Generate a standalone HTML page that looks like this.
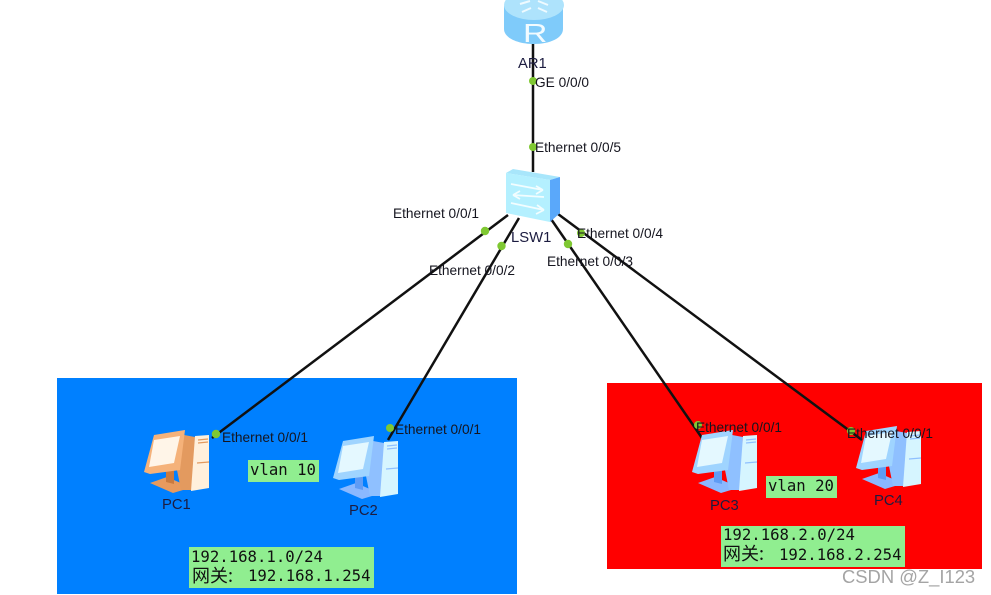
<!DOCTYPE html>
<html>
<head>
<meta charset="utf-8">
<style>
html,body{margin:0;padding:0;background:#fff;width:991px;height:595px;overflow:hidden}
svg{position:absolute;left:0;top:0;display:block;filter:blur(0.35px)}
.l{font-family:"Liberation Sans",sans-serif;font-size:13.7px;fill:#15151f}
.n{font-family:"Liberation Sans",sans-serif;font-size:14.8px;fill:#1c1c40}
.m{font-family:"DejaVu Sans Mono","Liberation Mono",monospace;font-size:15.66px;fill:#111}
.c{font-family:"Noto Sans CJK SC","Liberation Sans",sans-serif;font-size:18px;fill:#111}
</style>
</head>
<body>
<svg width="991" height="595" viewBox="0 0 991 595" xmlns="http://www.w3.org/2000/svg">
<defs>
<g id="pcb">
<path d="M7 53 L24 47 L40 54 L40 60 L30 63 Z" fill="#8ab8ff"/>
<path d="M23 40 L31 39 L31 54 L23 52 Z" fill="#5f9cf5"/>
<path d="M41 5 L52 7 L50 60 L38 60 L34 40 Z" fill="#8fc0ff"/>
<path d="M52 6 L66 5 L66 58 L48 61 Z" fill="#d6f5ff"/>
<path d="M55 10 L65 9 M55 13 L65 12 M54 33 L66 32" stroke="#8fc0ff" stroke-width="1.2"/>
<path d="M11 5 L42 0 L37 40 L7 44 L1 42 Z" fill="#9fd4ff"/>
<path d="M11 10 L37 6 L31 33 L6 37 Z" fill="#e4f8ff"/>
</g>
</defs>

<rect x="57" y="378" width="460" height="216" fill="#0080ff"/>
<rect x="607" y="383" width="375" height="186" fill="#ff0000"/>

<g stroke="#111" stroke-width="2.5" fill="none">
<line x1="533" y1="40" x2="533" y2="172"/>
<line x1="508" y1="215" x2="212" y2="438"/>
<line x1="519" y1="218" x2="388" y2="440"/>
<line x1="551" y1="219" x2="702" y2="438"/>
<line x1="558" y1="214" x2="862" y2="440"/>
</g>

<!-- Router -->
<path d="M504 6 V29 C504 38 518 44 534 44 C550 44 563 38 563 29 V6 Z" fill="#7fcbfa"/>
<ellipse cx="534" cy="5" rx="30" ry="15" fill="#aee3fc"/>
<path d="M520 4 L530 1 M538 1 L548 5 M522 12 L531 8 M538 8 L547 12" stroke="#eefaff" stroke-width="2"/>
<text transform="translate(523,42) scale(1.3,1)" x="0" y="0" font-family="Liberation Sans,sans-serif" font-size="26" fill="#f2fbff">R</text>

<!-- Switch -->
<path d="M506 173 L513 169 L560 177 L550 180 Z" fill="#a8e6fb"/>
<path d="M506 173 L550 180 L550 222 L506 213 Z" fill="#b4f0ff"/>
<path d="M550 180 L560 177 L560 213 L550 222 Z" fill="#5aa8fa"/>
<path d="M511 184 L543 190 M543 190 L536 186 M543 190 L536 194 M513 195 L544 197 M513 195 L520 191 M513 195 L520 199 M511 203 L544 210 M544 210 L537 205 M544 210 L536 214" stroke="#f2fdff" stroke-width="1.7" fill="none"/>

<!-- PC1 orange -->
<g transform="translate(143,430)">
<path d="M7 53 L24 47 L40 54 L40 60 L30 63 Z" fill="#e89a5e"/>
<path d="M23 40 L31 39 L31 54 L23 52 Z" fill="#c97a3f"/>
<path d="M41 5 L52 7 L50 60 L38 60 L34 40 Z" fill="#e39a5f"/>
<path d="M52 6 L66 5 L66 58 L48 61 Z" fill="#fff0dc"/>
<path d="M55 10 L65 9 M55 13 L65 12 M54 33 L66 32" stroke="#e39a5f" stroke-width="1.2"/>
<path d="M11 5 L42 0 L37 40 L7 44 L1 42 Z" fill="#f5b27a"/>
<path d="M11 10 L37 6 L31 33 L6 37 Z" fill="#fff5e8"/>
</g>
<use href="#pcb" x="332" y="436"/>
<use href="#pcb" x="691" y="430"/>
<use href="#pcb" x="855" y="426"/>

<!-- Dots -->
<g fill="#7fc832">
<circle cx="533" cy="81" r="4"/>
<circle cx="533" cy="147" r="4"/>
<circle cx="485" cy="231" r="4.200"/>
<circle cx="501.500" cy="246" r="4.200"/>
<circle cx="568" cy="244" r="4.200"/>
<circle cx="581" cy="233" r="4"/>
<circle cx="216" cy="434" r="4.200"/>
<circle cx="390" cy="428" r="4"/>
<circle cx="698" cy="425" r="4"/>
<circle cx="851" cy="431" r="4"/>
</g>

<!-- Labels -->
<g class="l">
<text class="l" x="535" y="87">GE 0/0/0</text>
<text class="l" x="535" y="152">Ethernet 0/0/5</text>
<text class="l" x="393" y="218">Ethernet 0/0/1</text>
<text class="l" x="429" y="275">Ethernet 0/0/2</text>
<text class="l" x="547" y="266">Ethernet 0/0/3</text>
<text class="l" x="577" y="238">Ethernet 0/0/4</text>
<text class="l" x="222" y="442">Ethernet 0/0/1</text>
<text class="l" x="395" y="434">Ethernet 0/0/1</text>
<text class="l" x="696" y="432">Ethernet 0/0/1</text>
<text class="l" x="847" y="438">Ethernet 0/0/1</text>
</g>
<text class="n" x="518" y="68">AR1</text>
<text class="n" x="511" y="242">LSW1</text>
<text class="n" x="162" y="509">PC1</text>
<text class="n" x="349" y="515">PC2</text>
<text class="n" x="710" y="510">PC3</text>
<text class="n" x="874" y="505">PC4</text>

<!-- Green note boxes -->
<rect x="248" y="460" width="71" height="22" fill="#90ee90"/>
<text class="m" x="250" y="475">vlan 10</text>
<rect x="189" y="547" width="185" height="41" fill="#90ee90"/>
<text class="m" x="191" y="562">192.168.1.0/24</text>
<text class="c" x="192" y="582">网关:</text>
<text class="m" x="248" y="581">192.168.1.254</text>

<rect x="766" y="476" width="71" height="22" fill="#90ee90"/>
<text class="m" x="768" y="491">vlan 20</text>
<rect x="721" y="526" width="184" height="41" fill="#90ee90"/>
<text class="m" x="723" y="540">192.168.2.0/24</text>
<text class="c" x="723" y="560">网关:</text>
<text class="m" x="779" y="560">192.168.2.254</text>

<text x="842" y="583" font-family="Liberation Sans,sans-serif" font-size="18.400" fill="#9a9a9a" fill-opacity="0.9">CSDN @Z_I123</text>
</svg>
</body>
</html>
